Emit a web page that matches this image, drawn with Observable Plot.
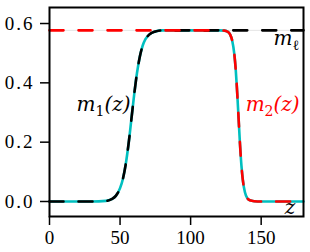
<!DOCTYPE html>
<html>
<head>
<meta charset="utf-8">
<script src="https://cdn.jsdelivr.net/npm/d3@7"></script>
<script src="https://cdn.jsdelivr.net/npm/@observablehq/plot@0.6"></script>
<style>
  html, body { margin: 0; padding: 0; background: #fff; }
  #chart svg { display: block; }
</style>
</head>
<body>
<div id="chart"></div>
<script>
// ---- data ----
const mL = 0.577;                       // plateau level m_ell
const xTicks = [0, 50, 100, 150];
const yTicks = [0.0, 0.2, 0.4, 0.6];

// m1(z): rising profile (black dashed)
const z1 = [0, 30, 40, 44, 47, 50, 52, 54, 56, 58, 60, 62, 64, 66, 68, 71, 75, 80, 100, 140, 180];
const m1 = [0, 0, 0.002, 0.008, 0.019, 0.045, 0.076, 0.125, 0.193, 0.276, 0.360, 0.433, 0.488, 0.525, 0.547, 0.564, 0.573, 0.577, 0.577, 0.577, 0.577];

// m2(z): falling profile (red dashed)
const z2 = [0, 60, 100, 120, 124, 126, 128, 129.5, 131, 132, 133, 134, 135, 136, 137, 138.5, 140, 142, 145, 150, 180];
const m2 = [0.577, 0.577, 0.577, 0.577, 0.576, 0.573, 0.563, 0.542, 0.496, 0.443, 0.368, 0.280, 0.193, 0.122, 0.073, 0.031, 0.0125, 0.004, 0.001, 0, 0];

// full profile m(z) (cyan solid)
const zP = [0, 30, 40, 44, 47, 50, 52, 54, 56, 58, 60, 62, 64, 66, 68, 71, 75, 80, 100, 120, 124, 126, 128, 129.5, 131, 132, 133, 134, 135, 136, 137, 138.5, 140, 142, 145, 150, 180];
const mP = [0, 0, 0.002, 0.008, 0.019, 0.045, 0.076, 0.125, 0.193, 0.276, 0.360, 0.433, 0.488, 0.525, 0.547, 0.564, 0.573, 0.577, 0.577, 0.577, 0.576, 0.573, 0.563, 0.542, 0.496, 0.443, 0.368, 0.280, 0.193, 0.122, 0.073, 0.031, 0.0125, 0.004, 0.001, 0, 0];

// labels: base, subscript, tail
const labelText = [
  {z: 57.5, m: 0.325, base: "m", sub: "1", tail: "(z)", color: "black", anchor: "end"},
  {z: 139.0, m: 0.325, base: "m", sub: "2", tail: "(z)", color: "red", anchor: "start"},
  {z: 158.8, m: 0.550, base: "m", sub: "ℓ", tail: "", color: "black", anchor: "start"},
  {z: 166.8, m: -0.02, base: "z", sub: "", tail: "", color: "black", anchor: "start"}
];

// ---- build tables ----
const d1 = z1.map((z, i) => ({z, m: m1[i]}));
const d2 = z2.map((z, i) => ({z, m: m2[i]}));
const dP = zP.map((z, i) => ({z, m: mP[i]}));
const labels = labelText.map(d => ({...d, text: d.base + d.sub + d.tail}));

const labelOpts = {x: "z", y: "m", text: "text", fill: "color", fontSize: 20, fontStyle: "italic", fontFamily: "DejaVu Serif", lineAnchor: "middle"};

const svg = Plot.plot({
  width: 310,
  height: 252,
  marginLeft: 49,
  marginRight: 7,
  marginTop: 7,
  marginBottom: 36,
  x: {domain: [0, 180]},
  y: {domain: [-0.0506, 0.654]},
  style: {fontFamily: "Liberation Serif", fontSize: "19px", background: "white", color: "black"},
  marks: [
    Plot.ruleY([mL], {stroke: "#e4e4e4", strokeWidth: 1}),
    Plot.line(dP, {x: "z", y: "m", stroke: "#00bfbf", strokeWidth: 2.6, curve: "monotone-x"}),
    Plot.line(d1, {x: "z", y: "m", stroke: "black", strokeWidth: 2.6, strokeDasharray: "14,15", curve: "monotone-x"}),
    Plot.line(d2, {x: "z", y: "m", stroke: "#ff0000", strokeWidth: 2.6, strokeDasharray: "14,15", curve: "monotone-x"}),
    Plot.frame({stroke: "black", strokeWidth: 2}),
    Plot.axisX({ticks: xTicks, tickSize: 9, tickPadding: 5, label: null, tickFormat: d => String(d), strokeWidth: 1.5, fontSize: 19}),
    Plot.axisY({ticks: yTicks, tickSize: 9, tickPadding: 6, label: null, tickFormat: d3.format(".1f"), strokeWidth: 1.5, fontSize: 19}),
    Plot.text(labels.filter(d => d.anchor === "end"), {...labelOpts, textAnchor: "end"}),
    Plot.text(labels.filter(d => d.anchor === "start"), {...labelOpts, textAnchor: "start"})
  ]
});

// widen y tick labels slightly, as in the reference
svg.querySelectorAll('g[aria-label="y-axis tick label"] text').forEach(t => t.setAttribute("letter-spacing", "2"));

// render subscripts as real tspans
const byText = new Map(labels.map(d => [d.text, d]));
svg.querySelectorAll("text").forEach(t => {
  const d = byText.get(t.textContent);
  if (!d || !d.sub) return;
  while (t.firstChild) t.removeChild(t.firstChild);
  const ns = "http://www.w3.org/2000/svg";
  const a = document.createElementNS(ns, "tspan"); a.textContent = d.base; t.appendChild(a);
  const b = document.createElementNS(ns, "tspan"); b.textContent = d.sub;
  b.setAttribute("font-size", "14"); b.setAttribute("font-style", "normal"); b.setAttribute("dy", "5"); t.appendChild(b);
  if (d.tail) {
    const c = document.createElementNS(ns, "tspan"); c.textContent = d.tail;
    c.setAttribute("font-size", "20"); c.setAttribute("dy", "-5"); t.appendChild(c);
  }
});

document.getElementById("chart").appendChild(svg);
</script>
</body>
</html>
